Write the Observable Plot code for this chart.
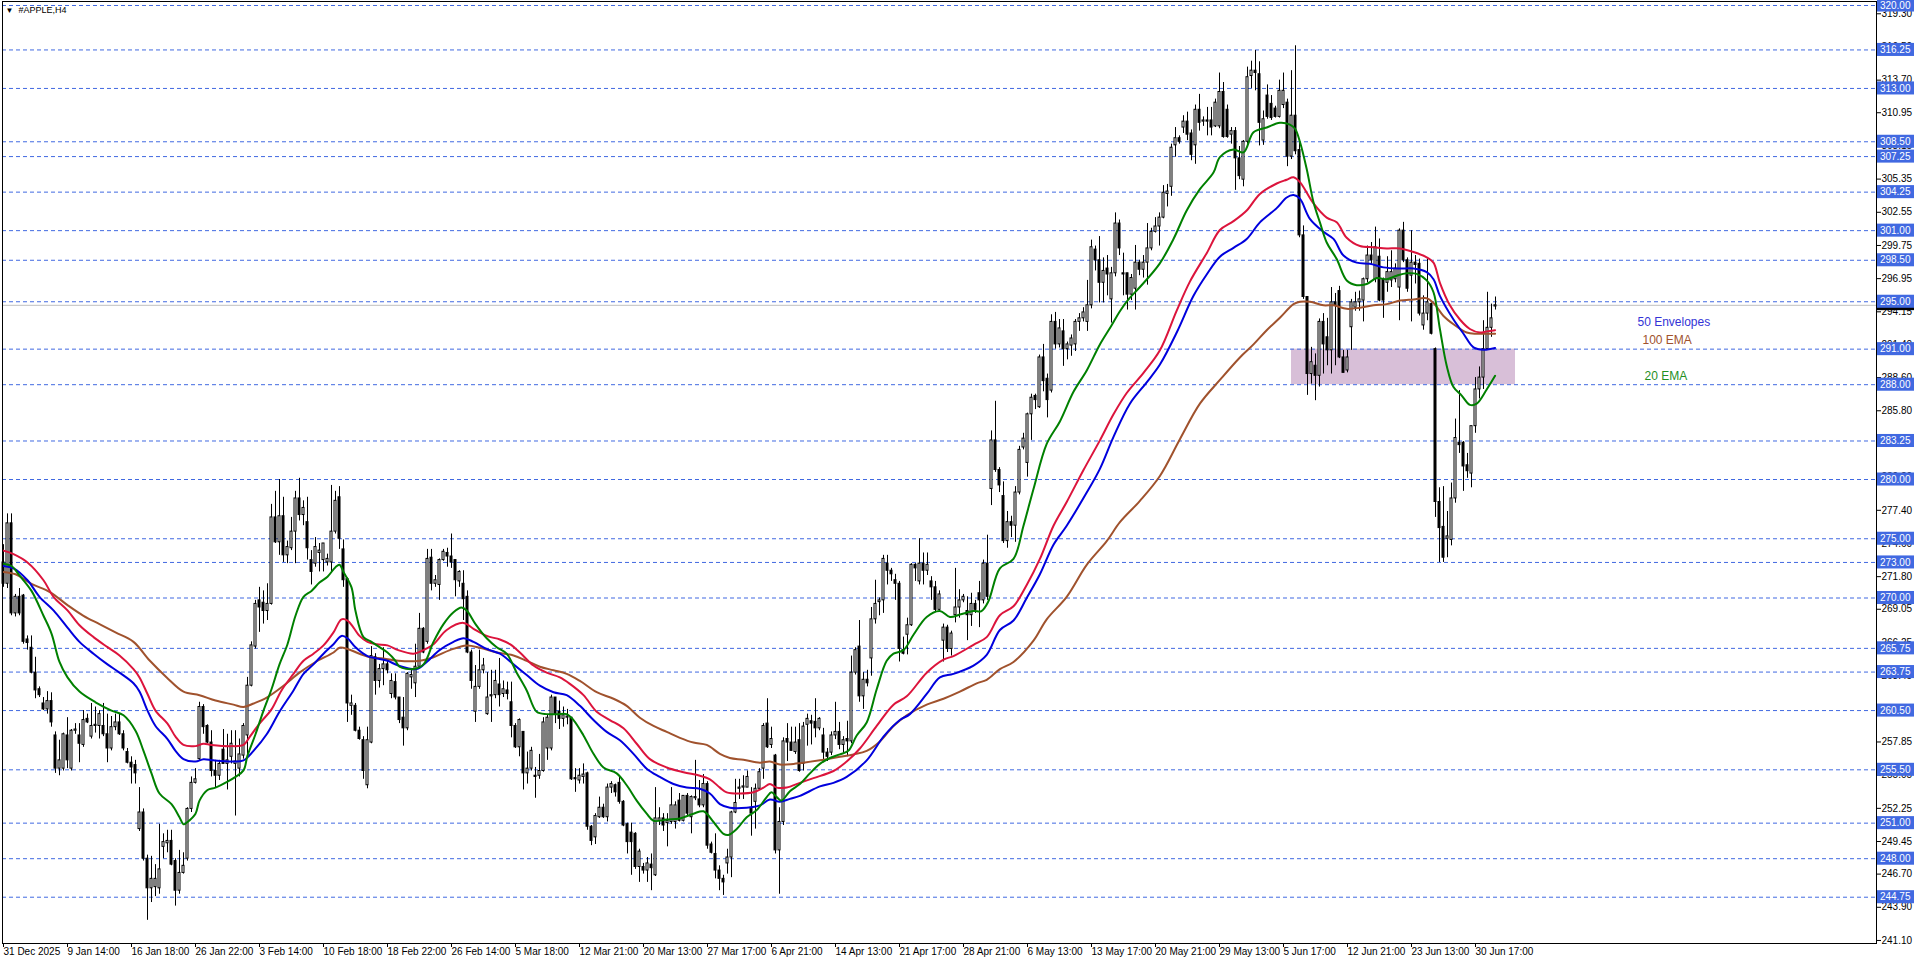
<!DOCTYPE html>
<html><head><meta charset="utf-8">
<script src="https://cdn.jsdelivr.net/npm/d3@7"></script>
<script src="https://cdn.jsdelivr.net/npm/@observablehq/plot@0.6"></script>
<style>html,body{margin:0;padding:0;background:#fff;overflow:hidden}</style>
</head><body><div id="chart"></div>
<script>
// ---- H4 candles (bar index 0..373) ----
const open=[273.0,271.2,276.3,268.7,270.1,270.2,266.5,265.8,263.7,262.3,
261.1,260.6,261.3,258.4,255.6,255.6,258.4,255.6,258.8,258.4,
257.6,259.8,258.3,259.2,259.2,259.2,258.5,257.3,259.1,259.5,
258.5,257.0,256.1,255.9,250.5,251.9,248.0,245.5,245.6,245.5,
249.0,249.3,249.5,247.8,245.3,246.8,248.0,252.2,254.4,256.4,
260.8,259.2,257.8,255.4,255.0,257.2,256.0,256.6,256.0,255.6,
256.7,258.4,262.6,265.9,269.8,269.6,268.9,269.5,276.8,274.7,
276.9,273.6,274.2,275.6,278.4,277.0,276.4,273.2,272.9,273.8,
273.2,273.0,273.0,275.6,278.5,274.1,271.6,260.9,260.9,258.8,
258.0,254.2,257.8,265.0,263.0,264.0,264.4,261.9,262.9,261.6,
259.9,259.0,263.3,262.8,264.2,267.4,266.3,273.4,271.2,271.1,
273.2,273.8,273.5,273.2,271.4,271.2,270.1,265.4,260.4,262.5,
263.9,260.2,261.7,261.8,262.7,261.9,262.2,261.2,259.2,257.4,
258.7,255.2,255.6,255.0,255.0,255.4,257.3,257.3,261.6,260.4,
259.8,259.9,259.9,254.8,254.6,254.9,255.2,250.7,249.8,251.5,
252.3,251.5,254.0,254.2,254.4,252.8,250.9,250.2,250.1,247.3,
247.3,247.0,247.5,246.6,251.2,251.4,251.0,251.1,251.1,252.9,
251.2,253.3,251.5,253.1,253.0,252.5,254.3,249.2,248.4,247.0,
246.3,247.6,248.1,251.9,253.9,254.0,254.0,252.3,252.8,253.9,
255.6,259.4,257.6,256.7,248.7,251.1,258.1,257.8,257.0,258.0,
256.0,259.3,259.6,259.55,259.0,258.4,256.95,256.95,258.4,258.7,
257.6,258.1,257.9,263.7,265.9,261.7,263.1,264.9,268.2,269.65,
269.8,272.9,272.3,271.5,271.2,265.6,266.9,267.7,272.8,271.4,
272.9,272.3,271.4,270.9,269.0,266.4,267.5,265.7,268.55,269.2,
269.8,268.9,268.55,269.5,270.4,269.8,272.9,279.2,283.3,280.8,
278.6,274.8,276.4,276.1,278.9,282.7,281.4,285.5,287.05,286.1,
290.3,288.5,287.5,293.3,291.4,292.5,291.0,291.3,291.4,293.3,
293.6,293.3,294.7,299.4,298.5,296.6,297.8,295.2,297.4,301.6,
297.4,297.4,295.6,296.1,298.3,297.7,298.3,299.5,300.9,301.35,
302.1,304.1,304.7,308.2,308.8,309.7,310.2,309.2,308.2,311.2,
310.2,310.3,310.3,309.8,309.8,312.7,311.2,309.1,309.4,307.1,
305.3,308.5,314.05,314.5,314.2,308.6,312.4,311.7,311.3,310.6,
311.6,311.8,307.25,310.7,307.8,300.6,295.4,288.9,289.6,288.75,
293.3,292.0,290.9,294.95,295.9,290.3,289.2,292.85,294.5,294.95,
295.1,296.9,298.9,296.9,298.8,296.9,296.6,296.8,296.9,296.2,
301.0,298.5,297.2,298.3,298.2,293.0,294.0,294.8,291.0,278.1,
276.0,275.0,274.9,278.4,283.1,283.1,281.2,280.5,284.5,287.6,
288.6,291.0,292.8,294.6];
const high=[274.5,277.1,277.1,270.3,270.8,270.3,266.8,266.8,265.0,262.5,
261.6,262.1,262.0,258.7,258.0,258.6,259.9,258.9,259.4,259.4,
260.5,260.2,261.1,260.8,260.5,261.1,260.2,260.0,260.2,260.2,
258.8,257.3,256.6,256.3,254.0,252.2,248.3,248.2,247.5,250.9,
250.1,250.4,250.4,248.0,248.7,248.5,252.3,254.9,255.6,261.2,
261.0,259.3,258.8,256.3,256.3,258.9,258.5,258.8,258.8,258.1,
259.4,263.3,266.3,269.8,270.9,270.6,271.2,277.9,279.0,280.0,
278.5,274.8,276.8,279.0,280.1,278.2,278.5,274.0,275.1,274.6,
274.6,273.7,279.5,279.0,279.4,274.9,271.7,261.8,261.1,259.1,
258.3,259.1,265.9,265.3,264.4,265.8,264.8,263.6,263.6,261.6,
261.6,263.7,263.9,266.1,268.7,267.5,274.1,274.1,271.9,273.3,
274.1,274.2,275.4,273.2,272.3,272.3,270.6,265.6,264.3,265.6,
264.9,263.7,263.9,263.9,264.9,263.0,262.9,262.9,259.4,259.8,
258.7,257.0,257.4,255.7,256.8,259.9,260.1,261.8,261.6,261.3,
260.8,260.6,259.9,255.6,255.6,256.0,255.3,250.8,251.8,253.2,
252.6,254.3,254.5,254.3,254.9,252.9,251.0,251.0,250.2,248.8,
247.6,248.1,248.4,254.0,252.3,251.8,251.8,254.0,252.8,253.5,
253.3,253.5,253.3,256.3,254.6,255.1,254.5,249.4,250.1,247.4,
246.6,248.8,252.0,254.7,254.7,255.0,255.4,254.0,254.3,255.6,
259.4,261.5,259.1,256.8,252.3,258.2,259.4,259.1,259.1,259.4,
259.5,260.2,260.1,261.5,259.9,259.0,257.3,258.7,261.2,259.5,
258.3,259.6,265.1,265.8,268.1,263.7,263.9,269.2,271.5,270.0,
273.6,273.6,272.5,272.0,271.4,266.7,268.3,272.9,272.9,275.0,
273.8,273.8,271.8,271.4,270.6,267.8,267.7,267.2,272.5,270.7,
270.3,270.1,270.4,269.8,271.4,273.2,275.3,284.1,286.6,281.0,
279.8,277.3,276.9,279.4,282.8,283.9,285.6,287.2,287.2,290.5,
291.4,288.9,293.9,294.1,293.5,293.5,291.6,292.2,293.5,294.0,
294.5,296.8,300.2,299.7,300.5,298.7,298.9,297.9,302.5,301.9,
299.1,297.4,297.3,299.75,298.5,298.9,301.6,301.2,302.1,302.5,
304.8,304.9,308.3,309.7,309.0,310.7,311.0,309.5,311.6,312.5,
310.6,311.4,311.4,312.1,314.3,313.5,311.6,309.7,309.7,308.1,
308.6,314.8,315.3,316.2,315.25,311.1,313.3,312.4,311.5,313.7,
314.3,312.1,314.5,316.6,308.5,301.4,295.4,291.15,290.6,293.55,
294.0,293.6,296.2,295.7,296.3,290.9,290.9,295.2,295.8,295.9,
297.0,299.7,300.0,301.3,300.3,297.0,298.8,299.3,298.2,301.15,
301.7,298.7,301.0,298.9,298.6,295.5,298.6,294.9,291.1,279.3,
279.4,277.3,279.7,285.1,287.5,283.2,282.2,284.5,288.6,289.5,
293.4,295.8,294.8,295.4];
const low=[270.9,270.8,268.5,268.4,268.5,266.1,265.6,263.6,261.5,261.6,
260.5,260.2,259.1,255.2,255.0,255.4,255.6,255.4,258.5,256.1,
257.4,259.4,258.1,258.6,258.1,258.3,256.1,257.1,258.8,258.4,
257.1,256.0,254.3,254.3,250.3,247.8,242.8,244.3,244.8,245.0,
248.0,248.5,247.4,244.0,245.0,246.7,247.8,251.9,254.3,256.3,
258.5,257.7,254.9,254.0,254.6,256.0,253.8,256.0,251.6,254.9,
256.4,256.6,262.5,265.7,267.1,267.8,268.1,269.4,274.6,273.6,
273.0,272.9,274.0,272.9,276.5,276.1,273.2,271.1,272.6,272.2,
272.2,272.7,272.2,275.4,274.1,270.9,259.5,260.1,258.7,258.0,
254.7,253.9,257.7,261.8,262.4,262.6,263.6,261.5,261.4,259.4,
257.5,258.8,262.3,261.6,264.0,265.3,266.1,270.6,270.9,269.8,
273.1,272.6,272.5,270.1,270.9,268.1,265.3,262.3,259.5,262.3,
263.6,260.1,259.5,261.5,260.8,261.6,261.4,258.2,257.3,256.6,
253.8,254.3,255.4,253.1,254.7,255.3,256.3,257.1,259.4,258.9,
259.1,259.3,254.6,253.6,254.3,254.3,250.4,249.1,249.2,251.4,
251.4,251.1,253.5,253.2,252.6,250.7,248.4,246.6,247.1,246.0,
246.7,246.0,245.3,246.5,250.8,250.3,249.0,250.9,250.5,251.1,
251.1,251.5,250.1,252.9,252.3,252.3,248.8,248.4,246.3,245.3,
244.9,246.7,246.4,251.8,253.0,253.0,254.0,249.9,250.5,253.8,
254.7,257.3,257.3,248.4,245.0,250.8,256.2,257.1,256.8,255.3,
255.4,257.5,257.6,258.2,258.8,256.3,256.2,256.7,258.05,257.2,
256.9,256.6,257.7,263.5,261.2,260.6,262.5,263.4,267.8,268.5,
268.7,271.1,271.4,269.8,264.6,265.2,265.2,267.6,271.4,271.1,
271.1,271.9,269.8,268.8,268.8,264.6,265.4,265.1,267.9,268.3,
269.6,266.4,267.6,268.7,267.5,269.5,269.8,277.8,280.6,278.9,
274.6,274.2,275.1,274.7,278.7,282.5,280.2,283.3,285.9,286.0,
287.4,285.2,287.3,291.0,291.1,289.55,290.1,290.4,290.8,292.5,
293.3,292.5,294.4,297.6,294.9,294.9,295.5,293.2,297.1,298.9,
295.5,294.3,295.1,294.3,297.2,297.0,296.4,299.3,300.8,299.7,
302.0,303.0,303.9,307.2,308.3,309.2,308.6,306.9,306.6,309.4,
309.8,309.0,309.0,309.7,309.6,308.8,308.8,308.3,304.4,305.3,
304.7,308.3,313.0,312.8,308.15,308.2,310.4,310.3,310.5,310.5,
311.3,306.4,307.0,307.4,300.4,295.2,287.1,288.05,286.65,287.8,
288.9,289.6,288.9,289.6,290.2,289.0,289.0,290.9,294.2,294.2,
293.3,296.6,298.1,296.6,295.0,293.6,295.8,296.2,296.6,293.4,
298.3,295.8,293.3,296.5,293.8,292.6,293.4,292.2,276.8,273.0,
273.0,273.4,274.4,278.0,282.2,279.0,280.1,279.3,283.9,286.8,
287.6,290.9,292.0,294.3];
const close=[271.2,276.3,268.7,270.1,268.7,266.3,266.2,263.7,262.2,261.8,
260.6,261.3,259.5,255.6,256.3,258.5,256.3,258.8,258.9,257.7,
259.7,259.5,259.2,259.3,260.2,258.5,257.3,259.1,259.5,258.5,
257.3,256.1,255.7,255.2,251.9,248.0,245.5,246.3,246.3,247.1,
249.4,249.5,247.5,245.3,246.8,247.4,252.2,254.4,254.7,260.8,
259.1,257.8,255.4,255.0,256.0,256.0,256.3,257.7,256.2,256.8,
259.2,262.6,266.0,269.5,269.2,268.9,269.5,276.8,274.7,276.9,
273.6,274.3,275.6,278.4,277.0,277.6,274.2,272.2,274.3,274.0,
274.6,273.3,275.6,278.2,275.0,271.5,261.1,261.1,258.8,258.1,
255.4,258.0,265.1,263.0,264.0,264.4,263.9,263.0,261.6,259.7,
259.0,263.6,263.5,264.2,267.4,265.4,273.3,271.2,271.5,273.2,
273.9,273.5,273.0,271.5,272.2,269.9,265.4,263.0,262.5,263.9,
264.3,261.6,261.8,263.0,261.8,262.3,261.9,259.2,257.4,259.7,
255.2,255.6,257.1,254.9,255.4,259.5,259.9,261.6,260.2,259.8,
260.1,260.0,254.7,254.7,255.0,255.1,250.7,249.5,251.6,252.3,
251.5,254.0,254.3,253.6,252.8,250.8,249.4,249.4,247.3,248.6,
247.0,247.6,247.2,251.4,251.4,250.8,251.2,252.5,252.5,251.2,
253.3,251.8,253.2,253.2,252.5,254.3,249.1,248.5,247.0,246.3,
246.0,248.1,251.9,252.7,254.0,254.1,254.9,251.8,253.9,255.3,
259.2,257.4,258.1,248.7,251.1,257.9,257.8,257.1,257.8,255.4,
259.15,259.8,259.4,259.0,259.8,256.95,256.6,258.4,258.7,257.6,
258.0,257.9,263.7,265.6,261.7,263.1,262.8,268.2,269.5,269.8,
273.3,272.3,272.0,271.2,265.7,265.3,267.7,272.8,272.5,272.9,
272.3,272.8,270.9,269.0,270.3,267.5,265.7,267.0,269.2,269.8,
270.1,268.55,269.5,269.0,269.8,272.9,270.1,283.3,280.8,279.5,
274.8,276.4,276.1,278.9,282.5,283.45,285.5,286.9,286.7,290.3,
288.3,286.7,293.3,291.4,292.75,291.0,291.4,291.9,293.3,293.6,
294.1,294.7,299.6,298.5,296.6,297.6,297.3,297.4,301.6,299.5,
297.3,295.6,297.0,298.3,297.7,298.3,299.5,300.9,301.35,302.1,
304.2,304.3,308.0,308.8,308.5,310.2,309.1,307.4,311.2,310.1,
310.3,310.2,309.7,311.8,312.7,308.9,308.9,309.4,307.1,305.6,
308.5,313.95,314.5,314.3,310.1,310.4,310.6,310.5,310.6,312.8,
312.8,307.25,310.7,307.7,300.6,295.4,288.9,289.9,288.75,293.3,
291.4,290.9,294.95,294.7,290.3,289.0,290.3,294.95,294.95,295.2,
296.9,298.9,298.5,299.6,295.1,295.1,297.5,297.5,297.8,301.0,
298.5,296.1,298.3,298.1,294.0,294.0,294.95,292.3,278.1,275.9,
273.4,275.2,278.4,283.5,282.9,281.1,280.7,284.5,287.6,288.6,
291.0,292.8,293.6,294.7];

// ---- indicator lines: [bar, price] ----
const ema20=[[0,272.9],[2,272.7],[4,271.9],[7,270.6],[10,268.5],[12,267.0],[14,264.6],[16,263.3],[19,262.1],[23,261.2],[27,260.5],[30,260.1],[33,258.8],[35,257.1],[37,255.2],[39,253.5],[42,252.6],[44,251.5],[45,250.9],[46,251.1],[48,251.8],[49,252.9],[51,253.8],[53,254.0],[56,254.5],[58,254.9],[60,255.45],[61,256.7],[63,258.5],[65,260.5],[67,262.3],[69,264.4],[71,266.1],[73,268.5],[75,270.1],[77,270.6],[79,271.3],[81,271.8],[83,272.6],[84,272.8],[85,272.2],[87,270.9],[88,268.9],[90,266.7],[92,266.3],[94,265.85],[96,265.4],[98,264.7],[99,264.2],[102.5,264.0],[105,264.4],[107.5,266.3],[110,267.8],[112.5,268.8],[114.5,269.2],[115.8,268.95],[118,267.8],[120.8,266.6],[123.3,265.85],[125.8,265.3],[128.3,263.7],[130.8,262.2],[133.3,260.4],[135.8,260.2],[138.3,260.2],[140.8,260.2],[142.5,259.7],[145,258.4],[147.5,256.85],[150,255.7],[153.3,255.2],[155.8,254.2],[158.3,252.9],[160.8,251.8],[162.5,251.2],[165.8,251.3],[169.1,251.4],[172.5,251.8],[175,252.0],[177.5,251.1],[180,250.1],[181.2,250.0],[183.3,250.5],[185.8,251.5],[188.3,252.1],[190.8,253.2],[192,253.6],[193.3,253.2],[194.5,252.9],[196.6,253.7],[199.1,254.3],[201.6,255.2],[204.1,256.0],[206.6,256.5],[209.1,256.8],[211.2,257.1],[213.3,258.4],[215.8,259.5],[218.3,262.3],[220.8,264.7],[222.5,265.3],[225,265.6],[227.5,266.9],[230.8,268.4],[234.1,268.9],[236.6,268.4],[239.1,268.6],[242.5,268.9],[244.5,268.9],[246.2,269.7],[249.1,272.5],[252.5,273.3],[255,276.1],[257.5,279.2],[260.8,283.0],[264.1,284.9],[267.5,287.4],[270.8,289.2],[274.1,291.4],[277,293.0],[279.1,294.2],[281.5,295.3],[284,296.2],[289,298.2],[292.5,300.3],[295.8,302.7],[299.1,304.5],[302.5,305.9],[304.1,307.2],[307.5,307.85],[310,307.6],[312.5,309.3],[315.8,309.7],[319.1,310.1],[321.6,309.95],[322.9,309.6],[324.1,308.5],[325.8,306.2],[327.5,303.4],[329.1,301.7],[330.8,300.0],[333.3,298.6],[335.8,296.8],[338.3,296.4],[340.8,296.5],[343.3,297.0],[345.8,296.9],[348.3,297.2],[350.8,297.4],[353.3,297.35],[355.8,296.8],[357.5,295.8],[359.1,292.7],[360.8,289.6],[362.5,287.8],[364.5,287.1],[366.6,286.3],[368.3,286.4],[370.8,287.6],[372.9,288.75]];
const envelopeUpper=[[0,274.0],[2.5,273.7],[6,273.0],[10,271.5],[12.5,270.1],[16,268.95],[19,267.7],[22.5,266.7],[26,265.85],[29,265.15],[32.5,264.0],[34,263.3],[36,261.9],[38,260.5],[41,259.4],[43,258.3],[45,257.6],[48,257.5],[50,257.7],[52,257.6],[57,257.5],[60,257.6],[61.6,258.3],[64,259.4],[67,260.6],[69.5,262.2],[72.5,263.6],[75,264.7],[77.5,265.3],[80,266.0],[82.5,267.1],[84.5,268.2],[86,268.1],[87.5,267.5],[89,266.8],[91,266.3],[93.3,266.1],[96,266.0],[98.7,265.6],[102.5,265.3],[105,265.6],[107.5,266.1],[110.8,267.3],[115,267.9],[117.5,267.4],[120.8,266.8],[124.1,266.5],[126.6,266.1],[129.1,265.4],[132.5,264.3],[135.8,263.7],[139.1,263.3],[141.6,262.75],[145,261.8],[148.3,260.4],[151.6,259.7],[155,259.0],[158.3,257.7],[161.6,256.4],[165.8,255.7],[170,255.3],[174.1,255.0],[176.6,254.7],[179.1,254.0],[180.8,253.6],[184.1,253.5],[187.5,253.6],[190,254.0],[191.6,254.3],[193.3,254.0],[195.8,254.0],[199.1,254.4],[202.5,254.8],[207.5,255.4],[210.8,256.2],[214.1,257.3],[218.3,259.2],[222.5,261.0],[225.8,261.7],[230.8,263.7],[235,264.8],[237.5,265.1],[242.5,266.05],[245.8,266.7],[249.1,268.55],[252.5,269.3],[255.8,271.1],[259.1,273.3],[262.5,276.1],[265.8,278.1],[270,280.8],[274.1,283.3],[277.5,285.5],[280.8,287.3],[285,289.0],[289.1,290.9],[293.3,294.25],[296.6,296.7],[300.8,299.1],[304.1,301.05],[307.5,301.8],[310.8,302.7],[314.1,304.1],[318.3,304.98],[320.8,305.3],[322.5,305.5],[324.1,305.1],[327.5,303.3],[330.8,302.1],[333.3,301.7],[335.8,300.4],[339.1,299.7],[342.5,299.6],[345.8,299.5],[349.1,299.5],[352.5,299.2],[355.8,298.75],[357.5,298.3],[359.1,296.6],[361.6,294.7],[364.1,293.5],[366.6,292.7],[369.1,292.4],[370.8,292.5],[372.9,292.6]];
const envelope50=[[0,272.7],[2.5,272.5],[6,271.5],[9,270.1],[12.5,268.95],[16,267.5],[19,266.3],[22.5,265.3],[26,264.4],[29,263.7],[32.5,262.8],[34,262.1],[36,260.5],[38,259.2],[41,258.1],[43,257.1],[45,256.4],[48,256.2],[50,256.4],[52.5,256.3],[57.5,256.2],[60,256.3],[62.5,257.1],[65.8,258.5],[69,260.4],[72.5,262.2],[75,263.6],[77.5,264.4],[80,265.3],[82.5,266.1],[84.5,266.8],[86,266.6],[88,265.85],[91,265.1],[93.3,264.9],[96,264.7],[98.7,264.3],[103.3,264.0],[105.8,264.6],[109,265.6],[112.5,266.3],[115,266.6],[117.5,266.3],[120.8,265.7],[124.1,265.3],[127.5,264.4],[130.8,263.5],[134.1,262.6],[137.5,262.05],[140.8,261.8],[144.1,260.9],[147.5,259.7],[150.8,258.7],[154.1,258.0],[157.5,256.85],[160.8,255.6],[164.1,254.9],[167.5,254.3],[170.8,254.0],[174.1,253.9],[176.6,253.5],[179.1,252.6],[181.6,252.3],[185.8,252.3],[189.1,252.5],[191.6,253.0],[194.1,252.8],[196.6,253.05],[199.1,253.3],[204.1,254.1],[207.5,254.4],[210.8,254.9],[215.8,256.3],[220,258.3],[224.1,259.7],[226.6,260.2],[230.8,261.9],[234.1,263.3],[237.5,263.6],[242.5,264.3],[245.8,265.2],[249.1,267.3],[252.5,268.1],[255.8,270.0],[259.1,272.0],[262.5,274.5],[265.8,276.1],[270.8,278.9],[274.1,280.9],[277.5,283.6],[281.6,286.4],[285.8,288.2],[289.1,289.7],[293.3,292.4],[297.5,295.5],[300.8,297.3],[304.1,298.8],[307.5,299.55],[310.8,300.3],[314.1,301.7],[318.3,302.9],[320.8,303.8],[322.5,304.0],[324.1,303.7],[326.6,302.0],[330,300.9],[332.5,300.3],[335,298.9],[338.3,298.3],[341.6,298.2],[345,297.9],[349.1,297.8],[352.5,297.8],[355.8,297.5],[357.5,296.9],[359.1,295.5],[362.5,293.5],[365,292.3],[367.5,291.15],[370,290.95],[372.9,291.1]];
const ema100=[[0,272.2],[3,272.0],[7,271.2],[11.6,270.5],[16,269.4],[20,268.5],[24,267.8],[28,267.1],[32.5,266.3],[36.6,264.7],[40.8,263.3],[45,262.1],[49,261.8],[53,261.35],[57.5,261.0],[60,260.8],[62.5,261.1],[65.8,261.6],[70,262.6],[74,263.7],[78,264.6],[82.5,265.4],[84,265.8],[86,265.7],[89,265.3],[91.6,265.0],[95,264.9],[98.7,264.7],[104.1,264.7],[107.5,265.0],[111.6,265.6],[115.8,266.0],[119.1,265.8],[123.3,265.4],[127.5,265.15],[130.8,264.7],[134.1,264.2],[137.5,263.9],[140.8,263.6],[144.1,263.0],[148.3,262.05],[152.5,261.5],[155.8,260.9],[159.1,259.9],[162.5,259.2],[165.8,258.7],[169.1,258.2],[172.5,257.8],[175.8,257.6],[179.1,256.85],[181.6,256.5],[185,256.35],[189.1,256.1],[191.6,256.2],[194.1,255.95],[197.5,256.0],[199.1,256.06],[204.1,256.3],[209.1,256.6],[212.5,256.8],[215.8,257.1],[219.1,257.9],[222.5,259.2],[225.8,260.1],[230.8,261.0],[235,261.5],[239.1,262.1],[243.3,262.8],[245.8,263.1],[249.1,264.0],[252.5,264.6],[257.5,266.4],[260.8,268.2],[265.8,270.1],[270.8,272.8],[275.8,274.8],[279.1,276.4],[284.1,278.2],[289.1,280.3],[294.1,283.4],[299.1,286.4],[304.1,288.4],[309.1,290.3],[312.5,291.4],[315.8,292.6],[319.1,293.65],[322.5,294.8],[324.1,295.0],[326.6,295.0],[330,294.7],[332.5,294.7],[335.8,294.4],[339.1,294.5],[342.5,294.7],[345.8,294.8],[349.1,295.1],[352.5,295.2],[355.8,295.3],[357.5,294.9],[360,293.8],[362.5,293.1],[365.8,292.4],[368.3,292.3],[370.8,292.3],[372.9,292.3]];

// ---- horizontal levels, zone, bid ----
const levels=[320.00,316.25,313.00,308.50,307.25,304.25,301.00,298.50,295.00,291.00,288.00,283.25,280.00,275.00,273.00,270.00,265.75,263.75,260.50,255.50,251.00,248.00,244.75];
const priceTicks=[319.30,316.50,313.70,310.95,308.15,305.35,302.55,299.75,296.95,294.15,291.40,288.60,285.80,283.00,280.20,277.40,274.60,271.80,269.05,266.25,263.45,260.65,257.85,255.05,252.25,249.45,246.70,243.90,241.10];
const zone={startBar:322,endBar:378,top:291.00,bottom:288.00};
const bid=294.70;

// ---- time axis ----
const timeBars=[0,16,32,48,64,80,96,112,128,144,160,176,192,208,224,240,256,272,288,304,320,336,352,368];
const timeLabels=["31 Dec 2025","9 Jan 14:00","16 Jan 18:00","26 Jan 22:00","3 Feb 14:00","10 Feb 18:00","18 Feb 22:00","26 Feb 14:00","5 Mar 18:00","12 Mar 21:00","20 Mar 13:00","27 Mar 17:00","6 Apr 21:00","14 Apr 13:00","21 Apr 17:00","28 Apr 21:00","6 May 13:00","13 May 17:00","20 May 21:00","29 May 13:00","5 Jun 17:00","12 Jun 21:00","23 Jun 13:00","30 Jun 17:00"];

// ---- annotations ----
const notes=[
  {text:"50 Envelopes",bar:408.5,price:293.25,color:"#3333d6"},
  {text:"100 EMA",bar:409.75,price:291.73,color:"#a0522d"},
  {text:"20 EMA",bar:410.25,price:288.69,color:"#1f8f1f"}
];
const symbolTitle="#APPLE,H4";

const candles=open.map((o,i)=>({i,o,c:close[i],h:Math.max(high[i],o,close[i]),l:Math.min(low[i],o,close[i])}));
const boxBlue="#4169e1";

const chart=Plot.plot({
  width:1916,height:963,marginLeft:2,marginRight:40,marginTop:1,marginBottom:20,
  x:{type:"linear",domain:[-0.25,468.25]},
  y:{type:"linear",domain:[240.8439,320.3376]},
  style:{fontFamily:"'Liberation Sans', Arial, sans-serif",fontSize:"10px",color:"black",background:"white",overflow:"visible"},
  marks:[
    Plot.rect([zone],{x1:"startBar",x2:"endBar",y1:"bottom",y2:"top",fill:"#d8bfd8"}),
    Plot.ruleY(levels,{stroke:boxBlue,strokeDasharray:"4,3"}),
    Plot.ruleY([bid],{stroke:"#c0c0c0"}),
    Plot.ruleX(candles,{x:"i",y1:"l",y2:"h",stroke:"black"}),
    Plot.rect(candles,{x1:d=>d.i-0.25,x2:d=>d.i+0.25,y1:d=>Math.min(d.o,d.c),y2:d=>Math.max(d.o,d.c),fill:d=>d.c>=d.o?"white":"black",stroke:"black"}),
    Plot.line(ema100,{x:d=>d[0],y:d=>d[1],stroke:"#a0522d",strokeWidth:2,curve:"catmull-rom"}),
    Plot.line(envelope50,{x:d=>d[0],y:d=>d[1],stroke:"#0000dd",strokeWidth:2,curve:"catmull-rom"}),
    Plot.line(envelopeUpper,{x:d=>d[0],y:d=>d[1],stroke:"#dc143c",strokeWidth:2,curve:"catmull-rom"}),
    Plot.line(ema20,{x:d=>d[0],y:d=>d[1],stroke:"#008000",strokeWidth:2,curve:"catmull-rom"}),
    Plot.text(notes,{x:"bar",y:"price",text:"text",fill:"color",textAnchor:"start",fontSize:12}),
    Plot.frame({stroke:"black"}),
    Plot.axisY({anchor:"right",ticks:priceTicks,tickFormat:d=>d.toFixed(2),tickSize:4,tickPadding:1,label:null,fontSize:10}),
    Plot.axisX({anchor:"bottom",ticks:timeBars,tickFormat:d=>timeLabels[timeBars.indexOf(d)],textAnchor:"start",tickSize:4,tickPadding:0,label:null,fontSize:10}),
    Plot.rect([bid],{x1:468.5,x2:477.75,y1:d=>d-0.45,y2:d=>d+0.45,fill:"black"}),
    Plot.rect(levels,{x1:468.5,x2:477.75,y1:d=>d-0.55,y2:d=>d+0.55,fill:boxBlue}),
    Plot.text(levels,{x:469.1,y:d=>d,text:d=>d.toFixed(2),fill:"white",textAnchor:"start",fontSize:10}),
    Plot.text(["▼"],{frameAnchor:"top-left",dx:3,dy:6,fontSize:8,textAnchor:"start",lineAnchor:"top",fill:"black"}),
    Plot.text([symbolTitle],{frameAnchor:"top-left",dx:16,dy:5,fontSize:9,textAnchor:"start",lineAnchor:"top",fill:"black"})
  ]
});
document.getElementById("chart").appendChild(chart);
</script>
</body></html>
